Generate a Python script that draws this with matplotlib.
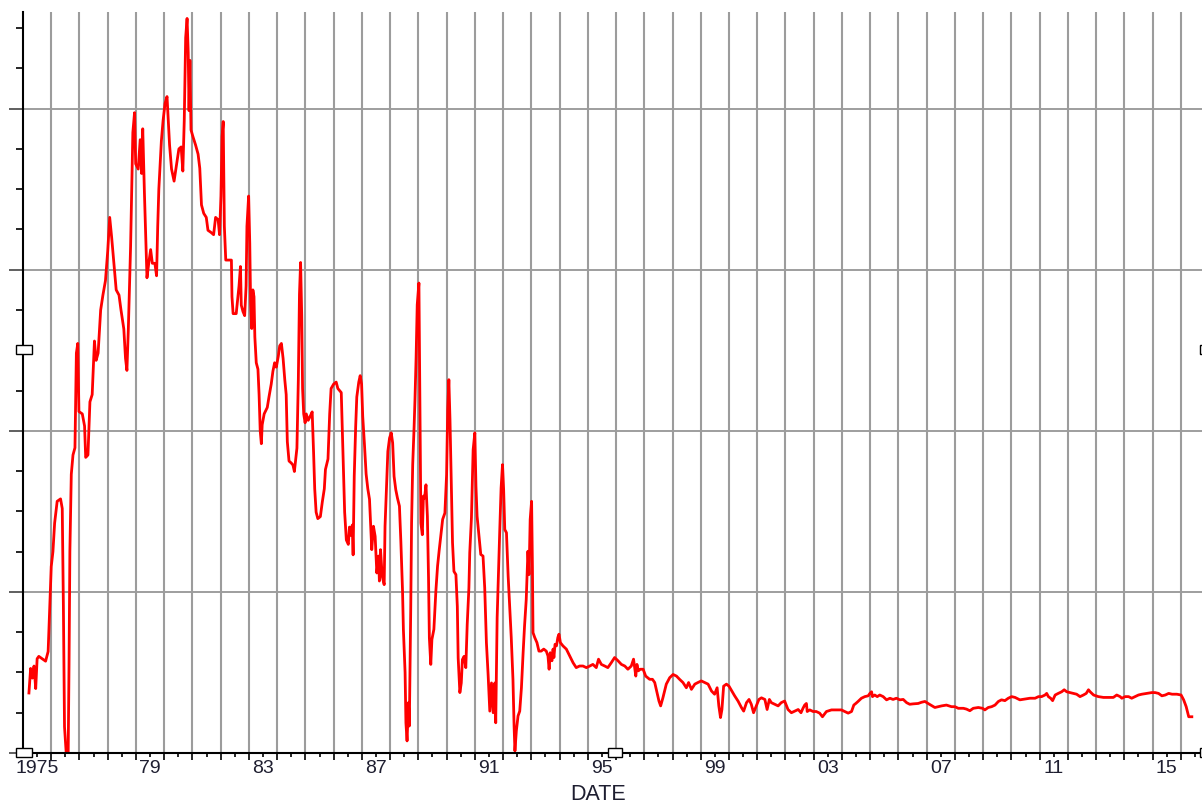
import matplotlib
matplotlib.use("Agg")
import matplotlib.pyplot as plt
from matplotlib.patches import Rectangle
import numpy as np

plt.rcParams['font.family'] = ['Liberation Sans', 'DejaVu Sans']

# decimal year / value pairs of the monthly series
dates = [
    1975.21, 1975.27, 1975.33, 1975.39, 1975.45, 1975.50, 1975.56, 1975.80, 1975.89, 1975.94,
    1976.00, 1976.06, 1976.12, 1976.21, 1976.33, 1976.39, 1976.43, 1976.47, 1976.53, 1976.60,
    1976.63, 1976.66, 1976.71, 1976.77, 1976.84, 1976.89, 1976.94, 1976.98, 1977.10, 1977.18,
    1977.22, 1977.30, 1977.37, 1977.45, 1977.53, 1977.59, 1977.66, 1977.75, 1977.83, 1977.92,
    1978.00, 1978.07, 1978.14, 1978.22, 1978.30, 1978.40, 1978.47, 1978.57, 1978.63, 1978.68,
    1978.73, 1978.77, 1978.81, 1978.85, 1978.89, 1978.95, 1978.99, 1979.08, 1979.15, 1979.20,
    1979.24, 1979.30, 1979.34, 1979.39, 1979.46, 1979.52, 1979.58, 1979.67, 1979.73, 1979.77,
    1979.81, 1979.90, 1979.96, 1980.03, 1980.10, 1980.13, 1980.19, 1980.26, 1980.35, 1980.43,
    1980.52, 1980.60, 1980.66, 1980.71, 1980.76, 1980.81, 1980.85, 1980.88, 1980.91, 1980.95,
    1981.02, 1981.11, 1981.20,
    1981.26, 1981.32, 1981.40, 1981.49, 1981.55, 1981.67, 1981.75, 1981.82, 1981.91, 1981.96,
    1982.01, 1982.05, 1982.09, 1982.13, 1982.18, 1982.38, 1982.40, 1982.44, 1982.55, 1982.61,
    1982.65, 1982.70, 1982.73, 1982.79, 1982.85, 1982.90, 1982.93, 1982.99, 1983.03, 1983.06,
    1983.10, 1983.14, 1983.18, 1983.21, 1983.26, 1983.32, 1983.36, 1983.40, 1983.44, 1983.47,
    1983.54, 1983.65, 1983.71, 1983.79, 1983.85, 1983.91, 1983.97, 1984.04, 1984.09, 1984.15,
    1984.21, 1984.27, 1984.32, 1984.36, 1984.42, 1984.50, 1984.56, 1984.61, 1984.66, 1984.70,
    1984.75, 1984.79, 1984.83, 1984.87, 1984.90, 1984.94, 1984.99, 1985.03, 1985.10, 1985.17,
    1985.24, 1985.29, 1985.33, 1985.38, 1985.44, 1985.53, 1985.60, 1985.67, 1985.71, 1985.80,
    1985.86, 1985.91, 1986.00, 1986.09, 1986.15, 1986.27, 1986.33, 1986.39, 1986.45, 1986.52,
    1986.56, 1986.62, 1986.66, 1986.69, 1986.73, 1986.78, 1986.82, 1986.89, 1986.94, 1986.99,
    1987.03, 1987.09, 1987.15, 1987.21, 1987.27,
    1987.35, 1987.41, 1987.47, 1987.53, 1987.59, 1987.62, 1987.66, 1987.72, 1987.79, 1987.82,
    1987.88, 1987.92, 1987.98, 1988.04, 1988.09, 1988.14, 1988.20, 1988.26, 1988.33, 1988.38,
    1988.44, 1988.47, 1988.53, 1988.56, 1988.60, 1988.65, 1988.68, 1988.73, 1988.76, 1988.80,
    1988.85, 1988.88, 1988.92, 1988.96, 1989.02, 1989.06, 1989.09, 1989.14, 1989.18, 1989.22,
    1989.27, 1989.32, 1989.36, 1989.39, 1989.44, 1989.48, 1989.55, 1989.62, 1989.68, 1989.74,
    1989.80, 1989.86, 1989.94, 1990.00, 1990.04, 1990.08, 1990.12, 1990.16, 1990.21, 1990.26,
    1990.33, 1990.38, 1990.41, 1990.47, 1990.52, 1990.56, 1990.62, 1990.68, 1990.73, 1990.79,
    1990.82, 1990.88, 1990.94, 1991.00, 1991.04, 1991.08, 1991.15, 1991.21, 1991.29, 1991.35,
    1991.41, 1991.47, 1991.53, 1991.59, 1991.65, 1991.71, 1991.74, 1991.79, 1991.84, 1991.88,
    1991.93, 1991.98, 1992.02, 1992.06, 1992.12, 1992.18, 1992.24, 1992.29, 1992.35, 1992.39,
    1992.42, 1992.47, 1992.53, 1992.59, 1992.65, 1992.71, 1992.76, 1992.82, 1992.88, 1992.92,
    1992.96, 1993.01, 1993.04, 1993.06,
    1993.12, 1993.20, 1993.27, 1993.35, 1993.44, 1993.53, 1993.59, 1993.63, 1993.67, 1993.73,
    1993.77, 1993.80, 1993.84, 1993.89, 1993.94, 1993.98, 1994.03, 1994.12, 1994.24, 1994.36,
    1994.48, 1994.59, 1994.71, 1994.83, 1994.95, 1995.07, 1995.18, 1995.30, 1995.38, 1995.48,
    1995.60, 1995.71, 1995.83, 1995.95, 1996.07, 1996.19, 1996.31, 1996.42, 1996.54, 1996.62,
    1996.70, 1996.74, 1996.79, 1996.86, 1996.96, 1997.05, 1997.19, 1997.29, 1997.37, 1997.45,
    1997.52, 1997.58, 1997.66, 1997.78, 1997.90, 1998.02, 1998.14, 1998.25, 1998.37, 1998.49,
    1998.57, 1998.67, 1998.79, 1998.90, 1999.02, 1999.14, 1999.26, 1999.38, 1999.49, 1999.58,
    1999.64, 1999.70, 1999.75, 1999.81, 1999.91, 2000.00, 2000.10, 2000.20, 2000.32, 2000.44,
    2000.52, 2000.62, 2000.71, 2000.79, 2000.87, 2000.97, 2001.06, 2001.15, 2001.27, 2001.35,
    2001.43, 2001.50, 2001.62, 2001.74, 2001.85, 2001.97, 2002.09, 2002.21, 2002.33, 2002.45,
    2002.55, 2002.62, 2002.68, 2002.74, 2002.77, 2002.86, 2002.98, 2003.09, 2003.21, 2003.31,
    2003.45, 2003.63, 2003.74, 2003.86, 2003.98, 2004.10, 2004.22, 2004.34, 2004.42, 2004.49,
    2004.57, 2004.69, 2004.81, 2004.93, 2004.99, 2005.05, 2005.08, 2005.16, 2005.25, 2005.34,
    2005.46, 2005.58, 2005.70, 2005.81, 2005.93, 2006.05, 2006.17, 2006.29, 2006.40, 2006.52,
    2006.70, 2006.82, 2006.94, 2007.05, 2007.17, 2007.29, 2007.41, 2007.53, 2007.70, 2007.88,
    2008.00, 2008.12, 2008.30, 2008.41, 2008.53, 2008.65, 2008.83, 2008.98, 2009.06, 2009.18,
    2009.30, 2009.42, 2009.54, 2009.65, 2009.77, 2009.89, 2010.01, 2010.13, 2010.30, 2010.48,
    2010.66, 2010.84, 2010.96, 2011.07, 2011.19, 2011.25, 2011.31, 2011.39, 2011.46, 2011.55,
    2011.66, 2011.78, 2011.87, 2011.96, 2012.08, 2012.20, 2012.31, 2012.43, 2012.55, 2012.65,
    2012.73, 2012.79, 2012.91, 2013.08, 2013.26, 2013.44, 2013.61, 2013.73, 2013.85, 2013.91,
    2014.03, 2014.15, 2014.26, 2014.38, 2014.50, 2014.62, 2014.80, 2014.97, 2015.09, 2015.21,
    2015.33, 2015.45, 2015.57, 2015.69, 2015.86, 2016.01, 2016.10, 2016.19, 2016.25, 2016.28,
    2016.39,
]
values = [
    1.49, 2.10, 1.86, 2.16, 1.60, 2.34, 2.40, 2.28, 2.52, 3.48,
    4.63, 5.00, 5.71, 6.25, 6.31, 6.07, 3.66, 0.65, 0.00, 0.00,
    2.20, 5.00, 6.92, 7.40, 7.58, 9.93, 10.17, 8.48, 8.42, 8.12,
    7.34, 7.40, 8.72, 8.90, 10.23, 9.75, 9.93, 11.00, 11.37, 11.73,
    12.46, 13.30, 12.80, 12.16, 11.50, 11.37, 11.00, 10.53, 9.80, 9.50,
    10.53, 11.55, 12.58, 13.96, 15.41, 15.90, 14.63, 14.50, 15.23, 14.39,
    15.50, 13.90, 12.94, 11.80, 12.20, 12.50, 12.16, 12.16, 11.85, 13.06,
    14.00, 15.20, 15.70, 16.13, 16.30, 15.90, 15.10, 14.50, 14.20, 14.57,
    15.00, 15.05, 14.45, 15.70, 17.76, 18.24, 17.40, 15.95, 17.20, 15.47,
    15.30, 15.10, 14.87,
    14.52, 13.61, 13.40, 13.30, 12.98, 12.92, 12.87, 13.30, 13.24, 12.87,
    13.83, 15.31, 15.68, 13.08, 12.24, 12.24, 11.33, 10.91, 10.91, 11.33,
    11.60, 12.08, 11.12, 10.96, 10.86, 11.60, 13.08, 13.83, 12.66, 11.17,
    10.54, 11.50, 11.33, 10.33, 9.69, 9.53, 8.90, 8.00, 7.68, 8.15,
    8.42, 8.58, 8.84, 9.16, 9.48, 9.69, 9.58, 9.85, 10.11, 10.17,
    9.80, 9.27, 8.90, 7.73, 7.25, 7.20, 7.15, 6.99, 7.30, 7.57,
    9.27, 11.39, 12.18, 10.86, 9.05, 8.42, 8.20, 8.42, 8.26, 8.36,
    8.47, 7.46, 6.56, 5.98, 5.82, 5.87, 6.24, 6.56, 7.04, 7.30,
    8.42, 9.05, 9.16, 9.21, 9.05, 8.95, 7.46, 5.98, 5.29, 5.18,
    5.61, 5.40, 5.66, 4.92, 6.88, 8.10, 8.84, 9.21, 9.37, 9.16,
    8.36, 7.68, 6.93, 6.56, 6.30,
    5.05, 5.63, 5.38, 4.47, 4.89, 4.27, 5.05, 4.39, 4.18, 5.63,
    6.79, 7.49, 7.82, 7.95, 7.70, 6.87, 6.54, 6.33, 6.13, 5.26,
    4.02, 3.07, 2.00, 0.75, 0.30, 1.25, 0.67, 3.56, 5.71, 7.16,
    8.11, 8.77, 9.81, 11.13, 11.67, 8.11, 5.71, 5.42, 6.38, 6.33,
    6.66, 5.88, 4.35, 2.86, 2.20, 2.82, 3.07, 4.02, 4.64, 5.05,
    5.42, 5.80, 5.96, 6.91, 8.53, 9.27, 8.28, 6.95, 5.22, 4.51,
    4.43, 3.64, 2.36, 1.50, 1.74, 2.32, 2.40, 2.12, 3.19, 4.10,
    4.97, 5.84, 7.53, 7.95, 6.62, 5.88, 5.38, 4.93, 4.89, 4.10,
    2.74, 1.95, 1.04, 1.74, 1.00, 1.74, 0.75, 3.36, 4.56, 5.47,
    6.58, 7.16, 6.54, 5.55, 5.47, 4.39, 3.56, 2.86, 1.83, 0.67,
    0.05, 0.55, 0.92, 1.04, 1.62, 2.49, 3.15, 3.81, 5.01, 4.43,
    5.80, 6.25, 4.60, 2.99,
    2.87, 2.74, 2.53, 2.53, 2.58, 2.53, 2.41, 2.08, 2.49, 2.29,
    2.58, 2.37, 2.70, 2.66, 2.87, 2.95, 2.74, 2.66, 2.58, 2.41,
    2.24, 2.12, 2.16, 2.16, 2.12, 2.16, 2.20, 2.12, 2.33, 2.20,
    2.16, 2.12, 2.24, 2.37, 2.29, 2.20, 2.16, 2.08, 2.16, 2.33,
    1.91, 2.20, 2.04, 2.08, 2.08, 1.91, 1.83, 1.83, 1.75, 1.50,
    1.29, 1.17, 1.37, 1.71, 1.87, 1.95, 1.91, 1.83, 1.75, 1.62,
    1.75, 1.58, 1.71, 1.75, 1.79, 1.75, 1.71, 1.54, 1.46, 1.62,
    1.17, 0.88, 1.08, 1.66, 1.71, 1.66, 1.54, 1.42, 1.29, 1.13,
    1.04, 1.25, 1.33, 1.21, 1.00, 1.17, 1.33, 1.37, 1.33, 1.08,
    1.33, 1.25, 1.21, 1.17, 1.25, 1.29, 1.08, 1.00, 1.04, 1.08,
    1.00, 1.11, 1.19, 1.23, 1.03, 1.07, 1.03, 1.03, 0.99, 0.90,
    1.03, 1.07, 1.07, 1.07, 1.07, 1.03, 0.99, 1.03, 1.19, 1.23,
    1.28, 1.36, 1.40, 1.42, 1.48, 1.52, 1.40, 1.44, 1.40, 1.44,
    1.40, 1.32, 1.36, 1.33, 1.36, 1.32, 1.33, 1.25, 1.21, 1.22,
    1.23, 1.26, 1.28, 1.23, 1.18, 1.13, 1.15, 1.17, 1.19, 1.15,
    1.15, 1.11, 1.11, 1.09, 1.05, 1.11, 1.13, 1.11, 1.07, 1.13,
    1.15, 1.19, 1.28, 1.32, 1.30, 1.36, 1.40, 1.38, 1.32, 1.34,
    1.36, 1.36, 1.40, 1.40, 1.44, 1.48, 1.40, 1.36, 1.30, 1.44,
    1.48, 1.52, 1.57, 1.52, 1.50, 1.48, 1.46, 1.40, 1.44, 1.48,
    1.57, 1.52, 1.44, 1.40, 1.38, 1.38, 1.38, 1.44, 1.40, 1.36,
    1.40, 1.40, 1.36, 1.40, 1.44, 1.46, 1.48, 1.50, 1.50, 1.48,
    1.42, 1.44, 1.48, 1.46, 1.46, 1.44, 1.32, 1.15, 0.99, 0.90,
    0.90,
]

year_labels = ["1975", "79", "83", "87", "91", "95", "99", "03", "07", "11", "15"]
label_step = 4

W, H = 1202, 805
fig = plt.figure(figsize=(W / 100, H / 100), dpi=100)
left, top, bottom = 23, 12, 753
ax = fig.add_axes([left / W, 1 - bottom / H, (W - left) / W, (bottom - top) / H])

ax.plot(dates, values, color='#ff0000', lw=2.0, zorder=5)

ax.set_xlim(1975.0, 2016.75)
ax.set_ylim(0, 18.4)

# yearly gridlines on major ticks, labels on mid-year minor ticks
years = np.arange(1976, 2017)
mids = np.arange(1975, 2017) + 0.5
ax.set_xticks(years)
ax.set_xticklabels([])
mid_labels = ['' for _ in mids]
for i, lab in enumerate(year_labels):
    mid_labels[i * label_step] = lab
ax.set_xticks(mids, minor=True)
ax.set_xticklabels(mid_labels, minor=True)
ax.tick_params(axis='x', which='major', direction='out', length=5, width=1.2, color='k')
ax.tick_params(axis='x', which='minor', direction='out', length=3, width=1.2, color='k',
               labelsize=14, labelcolor='#1e1e30', pad=2)
ax.grid(axis='x', which='major', color='#9c9c9c', lw=1.5, zorder=1)

ax.set_yticks(np.arange(0, 18.5, 4))
ax.set_yticks(np.arange(0, 18.5, 1), minor=True)
ax.set_yticklabels([])
ax.tick_params(axis='y', which='major', direction='out', length=10, width=1.2, color='#444444')
ax.tick_params(axis='y', which='minor', direction='out', length=5, width=1.2, color='k')
for lvl in np.arange(4, 17, 4):
    ax.axhline(lvl, color='#8e8e8e', lw=1.2, zorder=1)

for side in ['top', 'right']:
    ax.spines[side].set_visible(False)
ax.spines['left'].set_linewidth(1.5)
ax.spines['bottom'].set_linewidth(1.5)
ax.spines['left'].set_zorder(6)
ax.spines['bottom'].set_zorder(6)

fig.text(598 / W, 1 - 800 / H, "DATE", ha='center', va='baseline', fontsize=15.5,
         color='#1e1e30')

# selection handles around the plot frame
for cx, cy, w in [(24, 350, 16), (24, 752, 16), (615, 752, 14), (1208, 350, 16), (1208, 752, 16)]:
    fig.add_artist(Rectangle(((cx - w / 2) / W, 1 - (cy + 4.5) / H), w / W, 9 / H,
                             facecolor='white', edgecolor='black', lw=1.0, zorder=10))

fig.savefig("out.png", dpi=100)
